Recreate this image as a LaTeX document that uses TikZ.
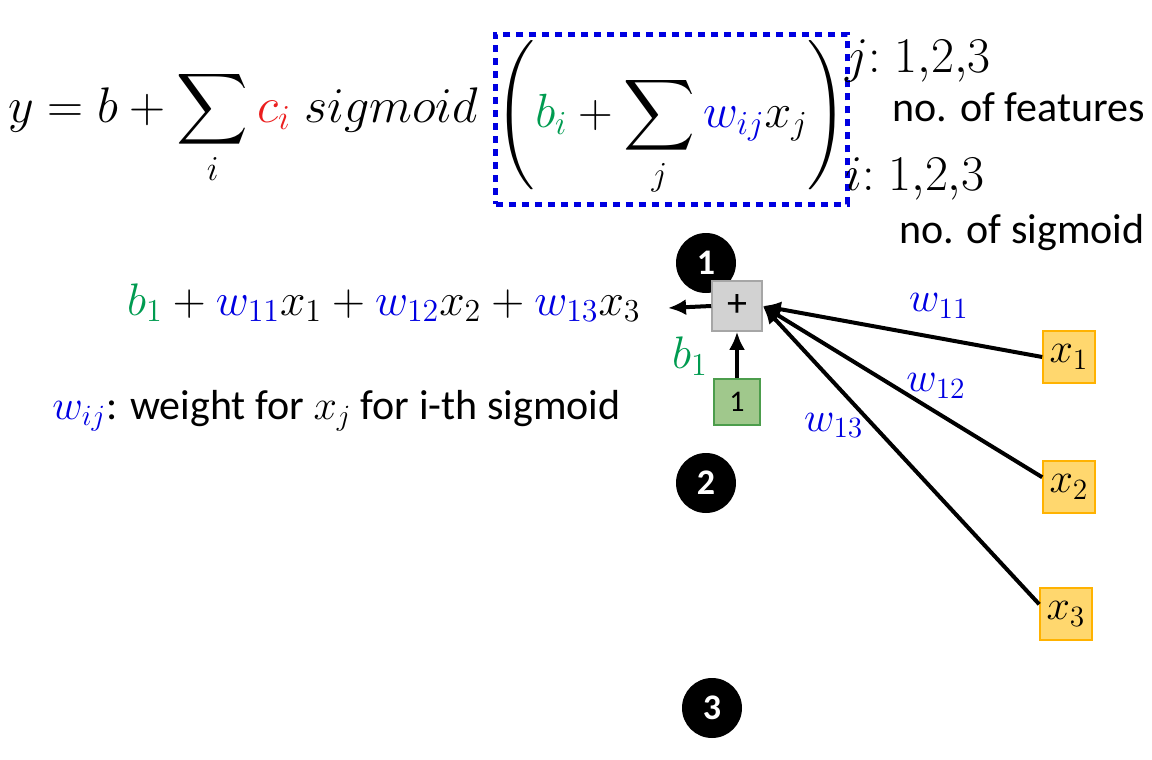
\RequirePackage{fix-cm}
\documentclass[tikz,border=0pt]{standalone}
\usepackage{amsmath}
\usepackage[no-math]{fontspec}
\setmainfont{Carlito}
\usepackage{xcolor}
\usetikzlibrary{arrows.meta,positioning,calc}
\definecolor{bgreen}{RGB}{0,155,80}
\definecolor{wblue}{RGB}{0,0,225}
\definecolor{cred}{RGB}{235,30,30}
\definecolor{addgray}{RGB}{210,210,210}
\definecolor{onegreen}{RGB}{160,200,140}
\definecolor{xgold}{RGB}{255,215,110}

\begin{document}
\begin{tikzpicture}[
    x=0.5pt, y=-0.5pt,
    >={Latex[length=9pt,width=8pt]},
    big/.style ={font=\fontsize{25}{30}\selectfont, inner sep=0pt},
    mid/.style ={font=\fontsize{22.8}{27}\selectfont, inner sep=0pt},
    note/.style={font=\fontsize{21}{24}\selectfont, inner sep=0pt},
    box/.style ={draw, line width=0.8pt, minimum width=25pt, minimum height=25pt,
                 inner sep=0pt, font=\fontsize{20}{22}\selectfont},
    addbox/.style={box, fill=addgray, draw=gray!70},
    onebox/.style={box, fill=onegreen, draw=green!45!black!70, minimum width=23pt,
                   minimum height=23pt, font=\fontsize{15}{17}\selectfont},
    inbox/.style ={box, fill=xgold, draw=orange!60!yellow, minimum width=26pt,
                   minimum height=26pt, font=\fontsize{21}{24}\selectfont},
    badge/.style ={circle, fill=black, text=white, minimum size=30pt, inner sep=0pt,
                   font=\fontsize{18}{20}\selectfont\bfseries},
    wlab/.style  ={text=wblue, font=\fontsize{21}{24}\selectfont, inner sep=0pt},
    arr/.style   ={->, line width=2pt}
]
\useasboundingbox (0,0) rectangle (1152,760);
% --- top formula ------------------------------------------------------
\node[big, anchor=base west] (lhs) at (8,122)
    {$y = b + \displaystyle\sum_i \textcolor{cred}{c_i}\; sigmoid$};
\node[big, font=\fontsize{24}{29}\selectfont, draw=wblue, line width=2.5pt,
      dash pattern=on 3.5pt off 3pt,
      minimum width=164.5pt, minimum height=85pt] (inner) at (671.5,119)
    {$\Biggl(\textcolor{bgreen}{b_i} + \displaystyle\sum_j \textcolor{wblue}{w_{ij}}x_j\Biggr)$};
\node[note, font=\fontsize{25}{30}\selectfont, anchor=base west] (jidx) at (845,72)
    {$j{:}\;1{,}2{,}3$};
\node[note, anchor=base east] (feat) at (1145,121) {no. of features};
\node[note, font=\fontsize{25}{30}\selectfont, anchor=base west] (iidx) at (845,190)
    {$i{:}\;1{,}2{,}3$};
\node[note, anchor=base east] (nsig) at (1145,243) {no. of sigmoid};
% --- first sigmoid ----------------------------------------------------
\node[badge] (n1) at (706,263) {1};
\node[addbox] (plus) at (737,306) {+};
\node[onebox] (one) at (737,402) {1};
\node[mid, text=bgreen, anchor=center] (blab) at (690,356) {$b_1$};
\node[mid, anchor=base east, inner xsep=0pt] (sum1) at (641,315)
    {$\textcolor{bgreen}{b_1} + \textcolor{wblue}{w_{11}}x_1
      + \textcolor{wblue}{w_{12}}x_2 + \textcolor{wblue}{w_{13}}x_3$};
\node[note, anchor=base west] (wdef) at (52,419)
    {$\textcolor{wblue}{w_{ij}}$: weight for $x_j$ for i-th sigmoid};
\node[badge] (n2) at (706,483) {2};
\node[badge] (n3) at (712,708) {3};
% --- inputs -----------------------------------------------------------
\node[inbox] (x1) at (1069,357) {$x_1$};
\node[inbox] (x2) at (1069,487) {$x_2$};
\node[inbox] (x3) at (1066,614) {$x_3$};
% --- arrows -----------------------------------------------------------
\coordinate (out) at (668,308);
\draw[arr] (plus.west) -- (out);
\draw[arr] (one) -- (plus);
\draw[arr] (x1.west) -- node[wlab, pos=0.37, above=9pt] {$w_{11}$} (plus.east);
\draw[arr] (x2.160) -- node[wlab, pos=0.38, above=6pt] {$w_{12}$} (plus.east);
\draw[arr] (x3.160) -- node[wlab, pos=0.6, left=4pt] {$w_{13}$} (plus.east);
\end{tikzpicture}
\end{document}
